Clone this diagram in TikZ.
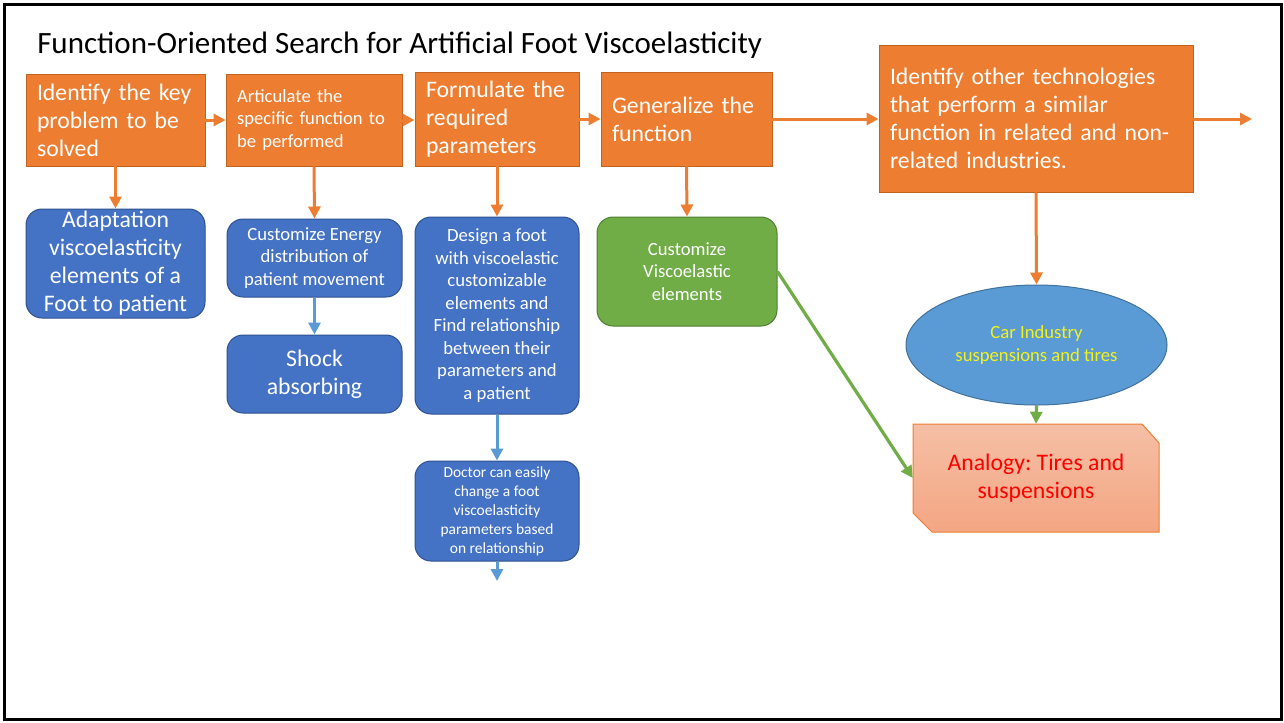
\documentclass[tikz,border=0pt]{standalone}
\usepackage{fontspec}
\setmainfont{Carlito}
\usetikzlibrary{arrows.meta,shapes.geometric}

\definecolor{orng}{HTML}{ED7D31}
\definecolor{orngdk}{HTML}{C2621F}
\definecolor{blu}{HTML}{4472C4}
\definecolor{bludk}{HTML}{2F528F}
\definecolor{lblu}{HTML}{5B9BD5}
\definecolor{lbludk}{HTML}{41719C}
\definecolor{grn}{HTML}{70AD47}
\definecolor{grndk}{HTML}{507E32}
\definecolor{salmtop}{HTML}{F5BFA5}
\definecolor{salmbot}{HTML}{F4A683}
\definecolor{carylw}{HTML}{F2F21A}

\frenchspacing
\begin{document}
\begin{tikzpicture}[x=0.75pt,y=-0.75pt,
  big/.style={font=\fontsize{17.8}{21}\selectfont},
  mid/.style={font=\fontsize{14}{16.9}\selectfont},
  small/.style={font=\fontsize{11.6}{14.3}\selectfont},
  obox/.style={fill=orng,draw=orngdk,line width=0.6pt,inner sep=0pt,text=white,align=left},
  bbox/.style={fill=blu,draw=bludk,line width=0.75pt,rounded corners=12pt,inner sep=0pt,text=white,align=center},
  gbox/.style={fill=grn,draw=grndk,line width=0.75pt,rounded corners=12pt,inner sep=0pt,text=white,align=center},
  tip/.style={-{Triangle[length=9pt,width=9pt]}},
  oarr/.style={tip,draw=orng,line width=2.25pt},
  barr/.style={tip,draw=lblu,line width=2.25pt},
  garr/.style={tip,draw=grn,line width=2.4pt}
]
\useasboundingbox (0,0) rectangle (1284,722);
\fill[white] (0,0) rectangle (1284,722);
\draw[line width=2.25pt] (4.5,4.5) rectangle (1281.5,719.5);

% title
\node[anchor=base west,inner sep=0pt,font=\fontsize{23.25}{28}\selectfont] (title) at (37,53)
  {Function-Oriented Search for Artificial Foot Viscoelasticity};

% process steps (orange)
\node[obox,big,minimum width=134.25pt,minimum height=69pt,text width=117.75pt] (o1) at (115.5,120)
  {Identify the key\\problem to be\\solved};
\node[obox,mid,minimum width=132pt,minimum height=69pt,text width=115.5pt] (o2) at (314,120)
  {Articulate the\\specific function to\\be performed};
\node[obox,big,minimum width=123pt,minimum height=70.5pt,text width=106.5pt] (o3) at (497,119)
  {Formulate the\\required\\parameters};
\node[obox,big,minimum width=128.25pt,minimum height=70.5pt,text width=111.75pt] (o4) at (686.5,119)
  {Generalize the\\function};
\node[obox,big,minimum width=235.5pt,minimum height=110.25pt,text width=219pt] (o5) at (1036,118.5)
  {Identify other technologies\\that perform a similar\\function in related and non-\\related industries.};
\coordinate (oend) at (1252,119);

% results (blue / green)
\node[bbox,big,minimum width=134.25pt,minimum height=81.75pt] (b1) at (115.5,263.5)
  {Adaptation\\viscoelasticity\\elements of a\\Foot to patient};
\node[bbox,mid,minimum width=131.25pt,minimum height=58.5pt] (b2) at (314.5,258)
  {Customize Energy\\distribution of\\patient movement};
\node[bbox,big,minimum width=131.25pt,minimum height=58.5pt] (shock) at (314.5,374)
  {Shock\\absorbing};
\node[bbox,mid,minimum width=123pt,minimum height=147.75pt] (b3) at (497,315.5)
  {Design a foot\\with viscoelastic\\customizable\\elements and\\Find relationship\\between their\\parameters and\\a patient};
\node[bbox,small,minimum width=123pt,minimum height=75pt] (b4) at (497,511)
  {Doctor can easily\\change a foot\\viscoelasticity\\parameters based\\on relationship};
\coordinate (bend) at (497,581);
\node[gbox,mid,minimum width=135pt,minimum height=81.75pt] (g) at (687,271.5)
  {Customize\\Viscoelastic\\elements};

% analogy
\node[ellipse,fill=lblu,draw=lbludk,line width=0.75pt,inner sep=0pt,
  minimum width=195.75pt,minimum height=90pt,text=carylw,align=center,mid] (car) at (1036.5,345)
  {Car Industry\\suspensions and tires};
\shadedraw[top color=salmtop,bottom color=salmbot,draw=orng,line width=0.75pt]
  (913,424) -- (1142,424) -- (1159,443) -- (1159,532) -- (932,532) -- (913,513) -- cycle;
\node[inner sep=0pt,minimum width=184.5pt,minimum height=81pt,text=red,align=center,big] (an) at (1036,478)
  {Analogy: Tires and\\suspensions};

% connectors
\draw[oarr] (o1.east) -- (o1.east -| o2.west);
\draw[oarr] (o2.east) -- (o2.east -| o3.west);
\draw[oarr] (o3.east) -- (o3.east -| o4.west);
\draw[oarr] (o4.east) -- (o4.east -| o5.west);
\draw[oarr] (o5.east |- oend) -- (oend);
\draw[oarr] (o1.south) -- (b1.north);
\draw[oarr] (o2.south) -- (b2.north);
\draw[oarr] (o3.south) -- (b3.north);
\draw[oarr] (o4.south) -- (g.north);
\draw[oarr] (o5.south) -- (car.north);
\draw[barr] (b2.south) -- (shock.north);
\draw[barr] (b3.south) -- (b4.north);
\draw[barr] (b4.south) -- (bend);
\draw[garr] (g.east) -- (an.west);
\draw[garr] (car.south) -- (an.north);
\end{tikzpicture}
\end{document}
